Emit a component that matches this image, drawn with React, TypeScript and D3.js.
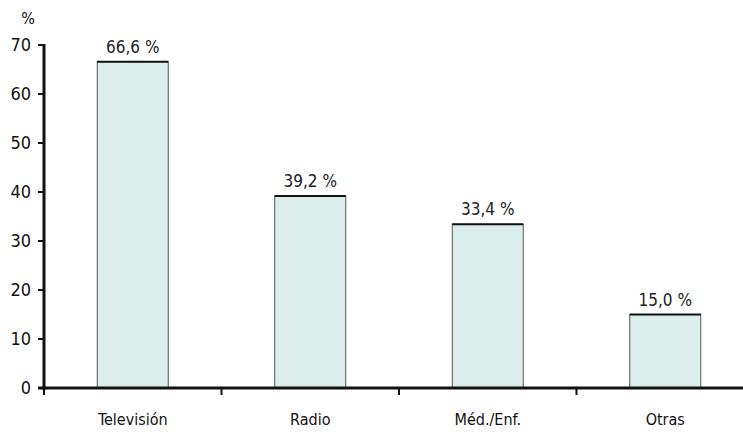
import React from 'react';
import * as d3 from 'd3';

const categories = ['Televisión', 'Radio', 'Méd./Enf.', 'Otras'];
const values = [66.6, 39.2, 33.4, 15.0];
const valueLabels = ['66,6 %', '39,2 %', '33,4 %', '15,0 %'];
const yTicks = [0, 10, 20, 30, 40, 50, 60, 70];

const W = 743;
const H = 432;
const left = 44;
const bottom = 388;
const top = 45;

const font = '"DejaVu Sans", sans-serif';

const App: React.FC = () => {
  const x = d3.scaleBand<string>().domain(categories).range([left, left + 4 * 177.5]).paddingInner(0).paddingOuter(0);
  const y = d3.scaleLinear().domain([0, 70]).range([bottom, top]);
  const barW = 71;

  const bounds = categories.map((c) => x(c)!).concat([x(categories[3])! + x.bandwidth()]);
  const txt = { fontFamily: font, fontStretch: 'condensed' as const };

  return (
    <svg width={W} height={H} style={{ position: 'absolute', left: 0, top: 0, background: '#fff' }}>
      <text x={28} y={24} fontSize={16} textAnchor="middle" fill="#111" style={txt}>%</text>
      {/* bars */}
      {categories.map((c, i) => {
        const cx = x(c)! + x.bandwidth() / 2;
        const bx = cx - barW / 2;
        const by = y(values[i]);
        return (
          <g key={c}>
            <rect x={bx} y={by} width={barW} height={bottom - by} fill="#dbeeec" stroke="#555" strokeWidth={1} />
            <line x1={bx} x2={bx + barW} y1={by} y2={by} stroke="#111" strokeWidth={2} />
            <text x={cx} y={by - 9} fontSize={17} textAnchor="middle" fill="#222" style={txt}>{valueLabels[i]}</text>
            <text x={cx} y={bottom + 37} fontSize={16} textAnchor="middle" fill="#111" style={txt}>{c}</text>
          </g>
        );
      })}
      {/* y axis */}
      <line x1={left} x2={left} y1={top - 1} y2={bottom + 2} stroke="#111" strokeWidth={3} />
      {yTicks.map((t) => (
        <g key={t}>
          <line x1={left - 6} x2={left} y1={y(t)} y2={y(t)} stroke="#111" strokeWidth={2} />
          <text x={left - 13} y={y(t) + 6} fontSize={18} textAnchor="end" fill="#111" style={txt}>{t}</text>
        </g>
      ))}
      {/* x axis */}
      <line x1={left - 6} x2={W} y1={bottom} y2={bottom} stroke="#111" strokeWidth={3} />
      {bounds.map((b, i) => (
        <line key={i} x1={b} x2={b} y1={bottom} y2={bottom + 7} stroke="#111" strokeWidth={2} />
      ))}
    </svg>
  );
};

export default App;
